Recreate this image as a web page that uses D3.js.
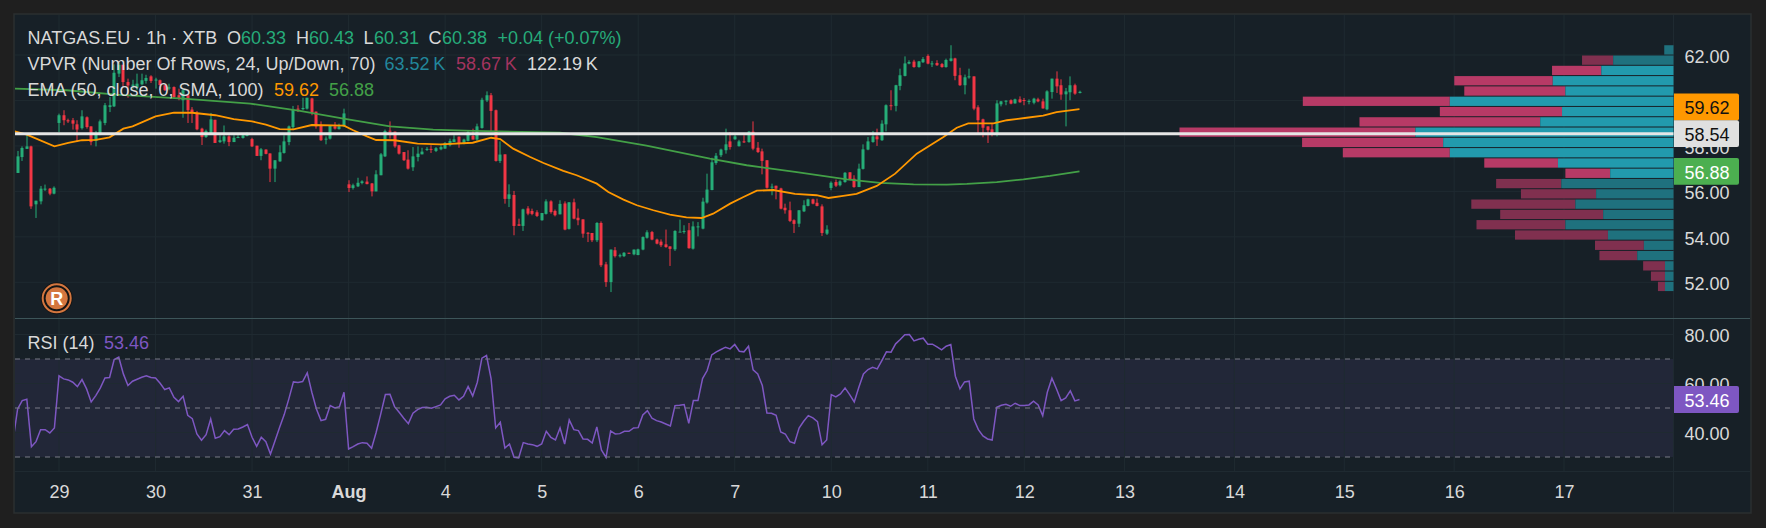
<!DOCTYPE html>
<html>
<head>
<meta charset="utf-8">
<style>
  html, body { margin: 0; padding: 0; background: #1f1f1f; }
  svg { display: block; }
  text { font-family: "Liberation Sans", Arial, sans-serif; font-size: 18px; }
  .axis path { display: none; }
  .axis line { stroke: none; }
  .axis text { fill: #d9d9d9; font-size: 18px; }
</style>
<script src="https://cdn.jsdelivr.net/npm/d3@7"></script>
</head>
<body>
<svg id="chart" width="1766" height="528"></svg>
<script>
// candles, one entry per hourly bar
const opens = [56.81,57.51,57.87,57.98,55.43,55.56,56.09,56.12,55.90,59.01,
  59.35,59.13,59.13,58.95,58.78,59.26,58.86,58.22,58.54,59.01,
  59.71,59.74,61.18,61.57,60.81,60.64,60.56,60.71,60.86,61.06,
  60.90,60.89,60.67,60.52,60.59,60.23,60.01,60.23,59.60,59.45,
  58.76,58.39,58.54,59.15,58.17,58.20,58.42,58.17,58.36,58.35,
  58.44,58.30,58.01,57.56,57.84,57.67,57.00,57.32,57.69,58.17,
  58.83,59.64,59.62,59.64,60.09,59.51,58.89,58.29,58.32,58.86,
  58.74,58.86,56.31,56.15,56.22,56.37,56.43,56.35,56.00,56.71,
  57.54,58.67,58.63,58.03,57.73,57.40,57.06,57.51,57.63,57.84,
  57.87,57.78,57.85,57.88,58.03,58.17,58.41,58.09,58.22,58.44,
  58.28,58.79,60.00,60.23,59.57,57.34,57.63,55.67,55.84,54.55,
  54.48,55.25,55.14,55.08,54.73,55.01,55.56,55.14,54.99,55.47,
  54.35,55.52,54.84,54.77,54.18,54.17,53.85,54.61,52.79,52.01,
  53.41,53.16,53.15,53.30,53.23,53.20,53.44,53.96,54.21,53.88,
  53.79,53.67,53.58,53.45,54.22,54.23,54.29,53.48,54.45,54.36,
  55.51,56.06,57.25,57.59,57.81,58.20,58.29,57.99,58.20,58.17,
  58.63,57.92,57.76,57.37,56.19,56.25,56.13,55.28,55.17,54.73,
  54.58,55.12,55.36,55.65,55.50,55.34,54.14,56.15,56.41,56.27,
  56.41,56.84,56.56,56.19,56.99,57.84,58.17,58.42,58.25,58.95,
  59.79,59.76,60.64,61.08,61.62,61.71,61.47,61.68,61.96,61.60,
  61.65,61.60,61.47,61.74,61.85,61.11,60.67,61.03,61.06,59.70,
  59.17,58.86,58.73,58.57,59.83,59.98,60.01,59.87,60.05,60.02,
  59.95,59.90,60.05,59.96,59.61,60.37,60.96,60.67,60.27,60.36,
  60.67,60.33];
const highs = [57.78,57.98,58.54,58.01,55.59,56.24,56.30,56.15,56.22,59.42,
  59.57,59.20,59.23,59.13,59.57,59.30,58.86,58.66,59.16,59.89,
  60.15,61.59,61.65,61.57,60.96,60.91,61.18,61.18,61.13,61.11,
  61.00,60.92,60.70,60.74,60.62,60.52,60.52,60.23,59.71,59.54,
  58.80,58.72,59.45,59.15,58.47,58.90,58.47,58.47,58.47,58.54,
  58.60,58.36,58.01,57.91,57.85,57.67,57.37,58.03,58.47,58.90,
  59.76,59.79,60.12,60.12,60.12,59.51,59.08,58.42,58.90,59.05,
  58.98,59.64,56.49,56.34,56.60,56.49,56.66,56.37,56.93,57.69,
  58.72,59.08,58.63,58.05,57.73,57.81,57.95,57.98,57.92,57.95,
  58.03,57.95,58.03,58.17,58.32,58.47,58.41,58.32,58.66,58.76,
  58.98,60.12,60.40,60.33,59.60,58.20,57.63,56.31,56.02,54.80,
  55.24,55.35,55.24,55.17,55.05,55.65,55.61,55.20,55.61,55.56,
  55.53,55.68,55.24,54.77,54.21,54.17,54.65,54.68,52.90,53.44,
  53.55,53.26,53.33,53.30,53.44,53.48,54.02,54.29,54.26,53.92,
  53.89,54.32,53.58,54.29,54.76,54.51,54.61,54.68,54.65,55.72,
  56.78,57.48,57.69,57.88,58.76,58.61,58.51,58.27,58.47,58.66,
  59.08,58.17,57.88,57.37,56.34,56.25,56.16,55.46,55.55,54.77,
  55.17,55.61,55.68,55.68,55.68,55.43,54.51,56.44,56.52,56.49,
  56.85,56.84,56.71,57.22,58.07,58.39,58.66,58.76,59.13,59.83,
  60.45,60.69,61.40,61.94,61.77,61.79,61.74,61.91,62.03,61.74,
  61.77,61.65,61.84,62.43,61.88,61.44,61.14,61.40,61.06,59.79,
  59.20,58.86,58.98,60.01,59.98,60.01,60.05,60.08,60.18,60.11,
  60.05,60.12,60.12,60.08,60.45,60.96,61.28,60.93,60.55,61.06,
  60.74,60.43];
const lows = [56.81,57.34,57.87,55.23,54.83,55.43,56.02,55.83,55.87,58.61,
  58.91,59.01,58.72,58.17,58.72,58.76,58.03,57.98,58.47,58.91,
  59.49,59.71,61.03,60.62,60.12,60.52,60.45,60.67,60.74,60.77,
  60.52,60.45,60.42,60.45,60.08,60.01,59.24,59.01,59.01,58.69,
  58.04,58.35,58.54,58.13,58.13,58.10,57.99,58.17,58.35,58.32,
  58.42,57.95,57.56,57.37,57.63,56.41,56.41,57.30,57.66,58.03,
  58.72,59.49,59.57,59.60,59.35,58.76,58.22,58.07,58.28,58.72,
  58.72,58.83,55.97,56.08,56.19,56.31,56.31,55.78,56.00,56.71,
  57.51,58.32,57.92,57.62,57.34,56.96,56.90,57.32,57.63,57.78,
  57.69,57.73,57.81,57.88,57.98,58.17,57.92,58.07,58.20,58.28,
  58.22,58.76,59.93,58.66,57.31,57.25,55.46,55.31,54.07,54.48,
  54.26,54.95,54.95,54.87,54.71,54.98,55.02,54.90,54.99,54.29,
  54.32,54.77,54.51,53.96,53.77,53.77,53.77,52.67,51.80,51.57,
  53.09,53.09,53.11,53.26,53.19,53.19,53.41,53.92,53.85,53.67,
  53.55,53.52,52.72,53.38,54.22,54.14,53.48,53.44,54.02,54.33,
  55.46,56.05,57.17,57.51,57.66,57.84,58.27,57.97,58.13,58.14,
  57.81,57.69,56.75,56.12,55.83,55.65,55.21,55.02,54.65,54.17,
  54.43,55.09,55.34,55.43,55.34,54.04,54.08,56.05,56.19,56.22,
  56.38,56.49,56.16,56.19,56.96,57.81,58.14,58.00,58.22,58.64,
  59.57,59.52,60.45,61.06,61.59,61.44,61.44,61.65,61.59,61.47,
  61.52,61.44,61.44,61.71,60.89,60.64,60.27,60.96,59.57,58.57,
  58.38,58.13,58.42,58.42,59.74,59.79,59.83,59.86,59.90,59.79,
  59.83,59.83,59.92,59.64,59.57,60.08,60.33,60.03,58.86,60.01,
  60.25,60.31];
const closes = [57.54,57.91,57.98,55.34,55.59,56.12,56.12,55.90,56.16,59.35,
  59.13,59.08,58.98,58.72,59.30,58.83,58.17,58.54,59.08,59.79,
  59.79,61.22,61.57,60.81,60.66,60.70,60.74,60.89,60.99,60.86,
  60.92,60.68,60.45,60.58,60.15,60.08,60.45,59.57,59.45,58.73,
  58.39,58.66,59.17,58.13,58.25,58.42,58.17,58.36,58.39,58.47,
  58.51,57.98,57.56,57.85,57.65,57.00,57.37,57.72,58.20,58.86,
  59.60,59.61,59.67,60.12,59.46,58.86,58.25,58.32,58.90,58.76,
  58.86,59.43,56.15,56.27,56.38,56.44,56.32,56.00,56.75,57.63,
  58.66,58.64,57.98,57.66,57.37,57.00,57.54,57.66,57.75,57.87,
  57.84,57.90,57.95,58.13,58.22,58.29,58.09,58.28,58.61,58.28,
  58.86,60.03,60.23,59.54,57.34,57.62,55.67,55.87,54.48,54.49,
  55.21,55.02,55.01,54.92,55.05,55.56,55.09,54.95,55.45,54.32,
  55.52,54.80,54.73,54.14,54.14,53.85,54.61,52.75,52.01,53.44,
  53.15,53.19,53.30,53.26,53.44,53.45,53.99,54.20,53.88,53.70,
  53.63,53.55,53.47,54.26,54.23,54.26,53.50,54.46,54.46,55.55,
  56.08,57.28,57.57,57.84,58.07,57.95,58.42,58.20,58.17,58.63,
  57.88,57.73,57.34,56.16,56.21,56.12,55.24,55.17,54.70,54.57,
  55.17,55.39,55.65,55.46,55.36,54.17,54.32,56.38,56.25,56.44,
  56.82,56.53,56.19,57.00,57.85,58.20,58.42,58.29,58.98,59.79,
  59.76,60.67,61.11,61.63,61.69,61.47,61.72,61.82,61.62,61.63,
  61.55,61.47,61.78,61.85,61.08,60.67,61.02,61.06,59.64,59.13,
  58.80,58.69,58.57,59.87,59.96,59.99,59.86,60.05,59.92,60.00,
  59.98,60.08,59.96,59.65,60.40,60.96,60.62,60.26,60.40,60.67,
  60.30,60.38];

// moving averages, read at these bar positions
const emaBars = [-1,2,8,11,14,17,20,23,25,30,34,38,43,47,51,54,57,60,64,71,73,76,78,82,87,92,99,103,105,
  107.8,111.5,114.4,118.7,121.6,126,128.5,131.8,134.7,138.3,141.9,145.5,148.8,151.3,155,157.9,160.8,164.4,
  169.1,173.8,176.4,179.6,182.5,186.9,190.9,195.6,201.4,204.3,206.8,212.3,215.2,219.5,223.1,226,231];
const emaValues = [58.66,58.50,57.98,58.13,58.25,58.27,58.38,58.76,58.86,59.30,59.46,59.46,59.35,59.18,59.08,58.94,
  58.74,58.73,58.92,58.89,58.69,58.42,58.26,58.25,58.10,58.07,58.14,58.36,58.30,
  57.88,57.51,57.25,56.90,56.71,56.34,55.97,55.64,55.39,55.17,54.98,54.86,54.83,55.02,55.46,55.75,56.03,56.06,
  55.89,55.83,55.71,55.80,55.89,56.24,56.78,57.66,58.39,58.80,58.99,58.99,59.13,59.24,59.33,59.49,59.62];
const smaBars = [-1,10.7,21.5,36,50.6,61.4,70.9,81,90.4,99.1,118,126,136.8,150.6,158.6,169.5,180.4,187.6,194.9,202.1,206.5,213,218.8,224.6,231];
const smaValues = [60.52,60.45,60.26,60.08,59.86,59.54,59.20,58.86,58.72,58.66,58.58,58.39,58.01,57.44,57.15,56.85,56.53,56.37,56.31,56.30,56.33,56.41,56.53,56.68,56.88];

// RSI, first value sits one bar before the first candle
const rsiValues = [36.70,49.62,53.03,53.57,34.22,36.27,41.17,41.17,39.81,41.85,63.11,
  61.88,61.47,60.52,58.75,61.61,57.79,52.48,55.07,58.20,62.29,
  62.43,69.78,70.74,63.92,59.16,60.93,61.74,62.56,63.11,62.43,
  62.29,60.11,57.52,58.20,54.39,52.62,54.80,47.03,45.67,39.40,
  36.81,39.13,45.53,37.63,38.31,40.76,39.13,41.31,41.45,42.26,
  43.22,38.04,34.36,38.04,36.27,31.23,36.68,42.13,47.30,53.71,
  60.65,60.38,60.79,64.33,56.43,49.62,44.85,45.40,50.98,50.03,
  50.57,56.43,33.27,34.22,35.31,35.86,35.59,33.54,40.08,47.58,
  55.48,55.61,50.57,48.26,45.80,43.62,47.85,49.35,50.16,50.30,
  49.89,50.57,51.25,53.71,54.80,55.21,53.30,54.80,58.75,54.93,
  60.52,70.33,71.42,61.88,41.85,44.17,33.68,35.31,29.86,29.59,
  35.86,35.31,35.04,34.36,35.31,40.49,38.04,36.95,41.85,35.31,
  45.12,41.17,40.76,37.36,37.22,35.72,42.26,32.86,29.86,40.63,
  39.40,39.54,40.49,40.49,41.85,41.99,47.17,48.94,45.80,44.85,
  44.31,43.49,42.67,50.98,51.12,51.39,43.76,53.03,53.03,62.02,
  65.29,71.69,72.92,73.87,74.82,74.14,75.91,73.19,72.92,75.23,
  65.56,63.92,59.16,47.98,47.85,47.03,40.22,39.40,36.27,35.59,
  41.85,44.58,46.89,45.94,44.44,35.04,36.95,55.48,54.52,55.75,
  58.20,55.48,52.48,58.48,63.92,65.70,66.65,65.97,69.37,72.92,
  72.78,76.19,77.96,79.86,80.00,77.41,78.09,78.50,76.05,76.05,
  74.96,73.73,75.23,75.91,62.97,57.79,60.65,60.93,45.53,41.17,
  38.58,37.36,36.95,50.30,51.12,51.53,50.71,51.94,50.98,50.98,
  51.25,52.75,51.25,46.89,56.43,62.15,57.79,53.03,54.12,56.98,
  52.89,53.46];

// volume profile rows, top row first, in thousands
const vpUp = [0.25,1.63,1.95,3.26,2.92,6.04,3.01,3.60,6.97,6.22,6.04,3.12,1.71,3.03,2.09,2.65,1.90,2.92,1.77,0.80,0.98,0.23,0.23,0.23];
const vpDown = [0,0.84,1.33,2.66,2.73,3.97,3.30,4.88,6.37,3.81,2.89,1.99,1.21,1.76,2.03,2.81,2.78,2.40,2.51,1.32,1.02,0.59,0.38,0.19];
const vpTop = 62.43, vpBottom = 51.57;
const valueAreaRows = [2, 12]; // first and last row of the value area

const priceTicks = [62, 60, 58, 56, 54, 52];
const rsiTicks = [80, 60, 40];
const rsiLevels = [70, 50, 30];
const dayBars = [9, 30, 51, 72, 93, 114, 135, 156, 177, 198, 219, 240.8, 264.7, 288.6, 312.5, 336.4];
const dayLabels = ["29", "30", "31", "Aug", "4", "5", "6", "7", "10", "11", "12", "13", "14", "15", "16", "17"];

const lastPrice = 58.54, lastEma = 59.62, lastSma = 56.88, lastRsi = 53.46;

// layout
const plotL = 15, plotR = 1673.5, plotT = 15, paneBottom = 318.5, timeAxisY = 471.5, frameB = 512, frameR = 1750;
const col = {
  bg: "#172027", border: "#2b2f31", grid: "#1f2a31", text: "#d9d9d9",
  up: "#26ad78", down: "#f23645", green: "#26ab7a",
  ema: "#ff9800", sma: "#43a047", rsi: "#7e57c2", band: "#222738"
};

const svg = d3.select("#chart");

const x = d3.scaleLinear().domain([9, 231]).range([59, 1079.5]);
const y = d3.scaleLinear().domain([62, 52]).range([55, 282.3]);
const yRsi = d3.scaleLinear().domain([80, 30]).range([334.5, 457]);
const vpWidth = d3.scaleLinear().domain([0, d3.max(vpUp.map((d, i) => d + vpDown[i]))]).range([0, 494]);

// frame
svg.append("rect").attr("x", plotL - 1).attr("y", plotT - 1)
  .attr("width", frameR - plotL + 2).attr("height", frameB - plotT + 2)
  .attr("fill", col.bg).attr("stroke", col.border).attr("stroke-width", 1.5);

svg.append("defs").append("clipPath").attr("id", "plot")
  .append("rect").attr("x", plotL).attr("y", plotT).attr("width", plotR - plotL).attr("height", timeAxisY - plotT);

// rsi band sits under the grid
svg.append("rect").attr("x", plotL).attr("y", yRsi(70)).attr("width", plotR - plotL)
  .attr("height", yRsi(30) - yRsi(70)).attr("fill", col.band);

// grid
const grid = svg.append("g").attr("stroke", col.grid).attr("stroke-width", 1);
grid.selectAll(".vg").data(dayBars).join("line").attr("class", "vg")
  .attr("x1", d => x(d)).attr("x2", d => x(d)).attr("y1", plotT).attr("y2", timeAxisY);
grid.selectAll(".hg").data(priceTicks).join("line").attr("class", "hg")
  .attr("x1", plotL).attr("x2", plotR).attr("y1", d => y(d)).attr("y2", d => y(d));
grid.selectAll(".rg").data(rsiTicks).join("line").attr("class", "rg")
  .attr("x1", plotL).attr("x2", plotR).attr("y1", d => yRsi(d)).attr("y2", d => yRsi(d));
grid.append("line").attr("x1", plotL).attr("x2", frameR).attr("y1", timeAxisY).attr("y2", timeAxisY);
grid.append("line").attr("x1", plotR).attr("x2", plotR).attr("y1", plotT).attr("y2", frameB);

svg.append("line").attr("x1", plotL).attr("x2", frameR).attr("y1", paneBottom).attr("y2", paneBottom)
  .attr("stroke", "#3d5559").attr("stroke-width", 1);

const plot = svg.append("g").attr("clip-path", "url(#plot)");

// candles
const bars = plot.append("g").selectAll("g").data(d3.range(opens.length)).join("g")
  .attr("fill", i => closes[i] >= opens[i] ? col.up : col.down);
bars.append("rect")
  .attr("x", i => Math.round(x(i)) - 0.5).attr("width", 1)
  .attr("y", i => y(highs[i])).attr("height", i => y(lows[i]) - y(highs[i]));
bars.append("rect")
  .attr("x", i => Math.round(x(i)) - 1.5).attr("width", 3)
  .attr("y", i => y(Math.max(opens[i], closes[i])))
  .attr("height", i => Math.max(1, Math.abs(y(opens[i]) - y(closes[i]))));

// moving averages
const maLine = (bs, vs) => d3.line().x(i => x(bs[i])).y(i => y(vs[i]))(d3.range(bs.length));
plot.append("path").attr("d", maLine(smaBars, smaValues)).attr("fill", "none")
  .attr("stroke", col.sma).attr("stroke-width", 1.8);
plot.append("path").attr("d", maLine(emaBars, emaValues)).attr("fill", "none")
  .attr("stroke", col.ema).attr("stroke-width", 1.8);

// volume profile
const rowStep = (vpTop - vpBottom) / vpUp.length;
const rowY = i => y(vpTop - i * rowStep);
const inArea = i => i >= valueAreaRows[0] && i <= valueAreaRows[1];
const rows = svg.append("g").selectAll("g").data(d3.range(vpUp.length)).join("g");
rows.append("rect")
  .attr("x", i => plotR - vpWidth(vpUp[i] + vpDown[i])).attr("width", i => vpWidth(vpDown[i]))
  .attr("y", i => rowY(i)).attr("height", i => rowY(i + 1) - rowY(i) - 1)
  .attr("fill", i => inArea(i) ? "#b73a66" : "#80304f");
rows.append("rect")
  .attr("x", i => plotR - vpWidth(vpUp[i])).attr("width", i => vpWidth(vpUp[i]))
  .attr("y", i => rowY(i)).attr("height", i => rowY(i + 1) - rowY(i) - 1)
  .attr("fill", i => inArea(i) ? "#229aad" : "#1f717e");

// last price line
svg.append("line").attr("x1", plotL).attr("x2", plotR).attr("y1", y(lastPrice)).attr("y2", y(lastPrice))
  .attr("stroke", "#e6e6e6").attr("stroke-width", 3);

// rsi pane
svg.append("g").attr("stroke", "#787b86").attr("stroke-dasharray", "5 5")
  .selectAll("line").data(rsiLevels).join("line")
  .attr("x1", plotL).attr("x2", plotR - 3).attr("y1", d => yRsi(d)).attr("y2", d => yRsi(d));
plot.append("path")
  .attr("d", d3.line().x((d, i) => x(i - 1)).y(d => yRsi(d))(rsiValues))
  .attr("fill", "none").attr("stroke", col.rsi).attr("stroke-width", 1.5);

// axes
const priceAxis = d3.axisRight(y).tickValues(priceTicks).tickFormat(d3.format(".2f")).tickSize(0).tickPadding(11);
svg.append("g").attr("class", "axis").attr("transform", `translate(${plotR},0)`).call(priceAxis)
  .selectAll("text").attr("dy", "0.4em");
const rsiAxis = d3.axisRight(yRsi).tickValues(rsiTicks).tickFormat(d3.format(".2f")).tickSize(0).tickPadding(11);
svg.append("g").attr("class", "axis").attr("transform", `translate(${plotR},0)`).call(rsiAxis)
  .selectAll("text").attr("dy", "0.4em");
const timeAxis = d3.axisBottom(x).tickValues(dayBars).tickFormat((d, i) => dayLabels[i]).tickSize(0).tickPadding(14);
svg.append("g").attr("class", "axis").attr("transform", `translate(0,${timeAxisY})`).call(timeAxis)
  .selectAll("text").style("font-weight", (d, i) => dayLabels[i] === "Aug" ? "bold" : null);

// axis value boxes
const boxes = [
  { cy: 107, fill: col.ema, color: "#111", label: lastEma.toFixed(2) },
  { cy: y(lastSma), fill: "#4caf50", color: "#fff", label: lastSma.toFixed(2) },
  { cy: yRsi(lastRsi), fill: col.rsi, color: "#fff", label: lastRsi.toFixed(2) },
  { cy: y(lastPrice), fill: "#e0e0e0", color: "#111", label: lastPrice.toFixed(2) }
];
const box = svg.append("g").selectAll("g").data(boxes).join("g")
  .attr("transform", d => `translate(${plotR + 0.5},${d.cy})`);
box.append("path").attr("fill", d => d.fill)
  .attr("d", "M0,-13.4H63a2,2 0 0 1 2,2V11.4a2,2 0 0 1 -2,2H0Z");
box.append("text").attr("x", 33).attr("y", 7.2).attr("text-anchor", "middle")
  .attr("fill", d => d.color).text(d => d.label);

// legend
const legend = [
  [27.5, 44, "NATGAS.EU · 1h · XTB", col.text],
  [227, 44, "O", col.text], [241, 44, "60.33", col.green],
  [296, 44, "H", col.text], [309, 44, "60.43", col.green],
  [363.5, 44, "L", col.text], [374, 44, "60.31", col.green],
  [428.5, 44, "C", col.text], [442, 44, "60.38", col.green],
  [497.5, 44, "+0.04 (+0.07%)", col.green],
  [27.5, 70, "VPVR (Number Of Rows, 24, Up/Down, 70)", col.text],
  [384.5, 70, "63.52\u2009K", "#22879c"], [456, 70, "58.67\u2009K", "#a3345f"], [527, 70, "122.19\u2009K", col.text],
  [27.5, 96, "EMA (50, close, 0, SMA, 100)", col.text],
  [274, 96, "59.62", col.ema], [329, 96, "56.88", col.sma],
  [27.5, 349, "RSI (14)", col.text], [104, 349, "53.46", col.rsi]
];
svg.append("g").selectAll("text").data(legend).join("text")
  .attr("x", d => d[0]).attr("y", d => d[1]).attr("fill", d => d[3]).text(d => d[2]);

// replay badge
const badge = svg.append("g").attr("transform", "translate(56.7,298.3)");
badge.append("circle").attr("r", 16).attr("fill", "#141414");
badge.append("circle").attr("r", 14).attr("fill", "none").attr("stroke", "#d4763f").attr("stroke-width", 2);
badge.append("circle").attr("r", 11).attr("fill", "#d4763f");
badge.append("text").attr("text-anchor", "middle").attr("y", 6.5).attr("fill", "#fff")
  .attr("font-weight", "bold").text("R");
</script>
</body>
</html>
